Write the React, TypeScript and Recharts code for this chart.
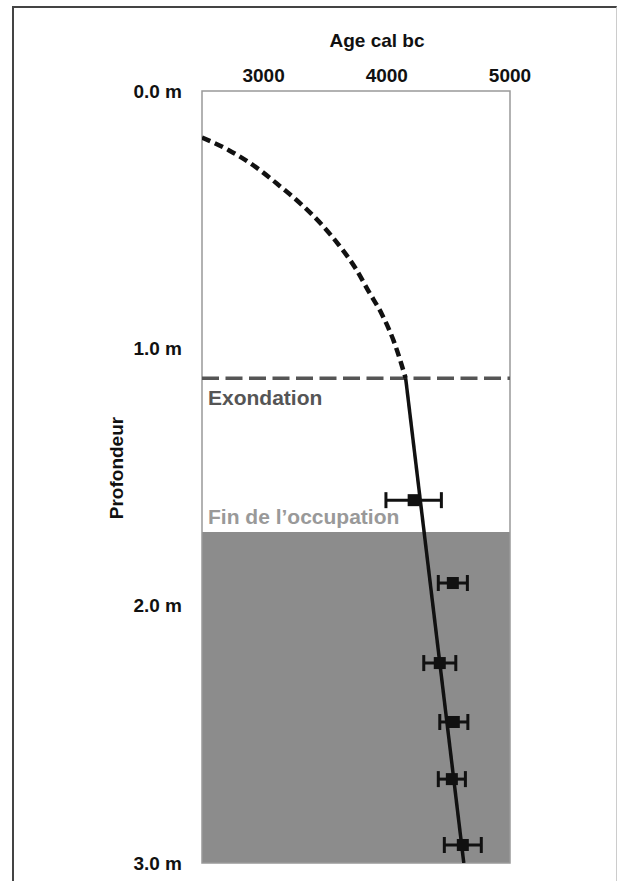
import {
  ComposedChart,
  ErrorBar,
  Line,
  ReferenceArea,
  ReferenceLine,
  Scatter,
  XAxis,
  YAxis,
} from "recharts";

const FONT = "'Liberation Sans', Arial, sans-serif";
const INK = "#111111";

// age cal bc vs. depth (m)
const AGE_TICKS = [3000, 4000, 5000];
const DEPTH_TICKS = [0, 1, 2, 3];

// extrapolated upper curve (dotted)
const curveAge = [2500, 2714, 2932, 3121, 3312, 3475, 3610, 3746, 3854, 3963, 4058, 4153];
const curveDepth = [0.181, 0.229, 0.294, 0.365, 0.443, 0.521, 0.598, 0.689, 0.78, 0.87, 0.974, 1.116];

// fitted sedimentation line (solid)
const lineAge = [4153, 4625];
const lineDepth = [1.116, 3.0];

// dated samples with 1-sigma range
const sampleAge = [4218, 4536, 4430, 4544, 4528, 4617];
const sampleDepth = [1.59, 1.912, 2.223, 2.452, 2.674, 2.93];
const sampleErr = [225, 118, 130, 114, 110, 150];

const EXONDATION_DEPTH = 1.116;
const OCCUPATION_END_DEPTH = 1.714;

const curveData = curveAge.map((age, i) => ({ age, depth: curveDepth[i] }));
const lineData = lineAge.map((age, i) => ({ age, depth: lineDepth[i] }));
const sampleData = sampleAge.map((age, i) => ({
  age,
  depth: sampleDepth[i],
  err: sampleErr[i],
}));

const tickStyle = { fill: INK, fontSize: 19, fontWeight: 700, fontFamily: FONT };

function SquareMarker({ cx, cy }: { cx?: number; cy?: number }) {
  if (cx == null || cy == null) return null;
  return <rect x={cx - 6} y={cy - 6} width={12} height={12} fill={INK} />;
}

export default function App() {
  return (
    <>
      <div
        style={{
          position: "absolute",
          left: 12,
          top: 6,
          width: 602,
          height: 875,
          borderTop: "2px solid #444",
          borderLeft: "2px solid #444",
          borderRight: "1px solid #ccc",
        }}
      />
      <div style={{ position: "absolute", left: 0, top: 0 }}>
        <ComposedChart
          width={617}
          height={881}
          margin={{ top: 41, right: 107, bottom: 18, left: 30 }}
        >
          <XAxis
            xAxisId={0}
            dataKey="age"
            type="number"
            orientation="top"
            domain={[2500, 5000]}
            ticks={AGE_TICKS}
            allowDataOverflow
            axisLine={false}
            tickLine={false}
            tickSize={0}
            tickMargin={9}
            height={50}
            tick={tickStyle}
            label={{
              content: ({ viewBox }: any) => (
                <text
                  x={viewBox.x + viewBox.width / 2 + 21}
                  y={viewBox.y + 6}
                  textAnchor="middle"
                  fill={INK}
                  fontSize={19}
                  fontWeight={700}
                  fontFamily={FONT}
                >
                  Age cal bc
                </text>
              ),
            }}
          />
          <YAxis
            yAxisId={0}
            dataKey="depth"
            type="number"
            reversed
            domain={[0, 3]}
            ticks={DEPTH_TICKS}
            allowDataOverflow
            axisLine={false}
            tickLine={false}
            tickSize={0}
            tickMargin={20}
            width={172}
            tick={tickStyle}
            tickFormatter={(v: number) => `${v.toFixed(1)} m`}
            label={{
              content: ({ viewBox }: any) => {
                const x = viewBox.x + 86;
                const y = viewBox.y + viewBox.height / 2 - 9;
                return (
                  <text
                    x={x}
                    y={y}
                    transform={`rotate(-90, ${x}, ${y})`}
                    textAnchor="middle"
                    dominantBaseline="central"
                    fill={INK}
                    fontSize={19}
                    fontWeight={700}
                    fontFamily={FONT}
                  >
                    Profondeur
                  </text>
                );
              },
            }}
          />

          <ReferenceArea
            x1={2500}
            x2={5000}
            y1={OCCUPATION_END_DEPTH}
            y2={3}
            fill="#8c8c8c"
            fillOpacity={1}
            stroke="none"
            label={{
              content: ({ viewBox }: any) => (
                <text
                  x={viewBox.x + 6}
                  y={viewBox.y - 8}
                  fill="#999999"
                  fontSize={21}
                  fontWeight={700}
                  fontFamily={FONT}
                >
                  Fin de l’occupation
                </text>
              ),
            }}
          />
          <ReferenceArea
            x1={2500}
            x2={5000}
            y1={0}
            y2={3}
            fill="none"
            stroke="#999999"
            strokeWidth={1.5}
          />
          <ReferenceLine
            y={EXONDATION_DEPTH}
            stroke="#555555"
            strokeWidth={3.5}
            strokeDasharray="17 6.5"
            label={{
              content: ({ viewBox }: any) => (
                <text
                  x={viewBox.x + 6}
                  y={viewBox.y + 27}
                  fill="#555555"
                  fontSize={21}
                  fontWeight={700}
                  fontFamily={FONT}
                >
                  Exondation
                </text>
              ),
            }}
          />

          <Line
            data={curveData}
            dataKey="depth"
            type="monotone"
            stroke={INK}
            strokeWidth={4.5}
            strokeDasharray="9 5"
            dot={false}
            activeDot={false}
            isAnimationActive={false}
          />
          <Line
            data={lineData}
            dataKey="depth"
            type="linear"
            stroke={INK}
            strokeWidth={3.5}
            dot={false}
            activeDot={false}
            isAnimationActive={false}
          />
          <Scatter
            data={sampleData}
            dataKey="depth"
            shape={<SquareMarker />}
            isAnimationActive={false}
          >
            <ErrorBar
              dataKey="err"
              direction="x"
              stroke={INK}
              strokeWidth={3}
              width={8}
              isAnimationActive={false}
            />
          </Scatter>
        </ComposedChart>
      </div>
    </>
  );
}
